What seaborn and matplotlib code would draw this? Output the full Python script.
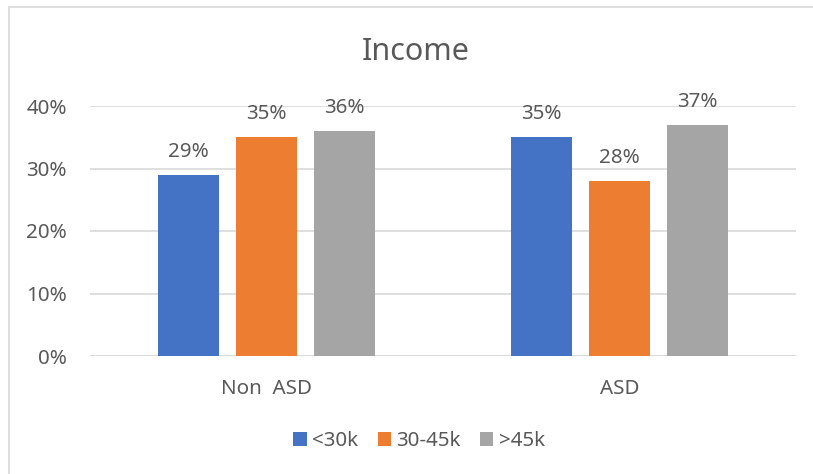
import matplotlib
matplotlib.use("Agg")
import matplotlib.pyplot as plt
import seaborn as sns
import pandas as pd
from matplotlib.patches import Rectangle

groups = ["Non  ASD", "ASD"]
series = ["<30k", "30-45k", ">45k"]
values_lt30k = [0.29, 0.35]
values_30_45k = [0.35, 0.28]
values_gt45k = [0.36, 0.37]
yticks = [0.0, 0.1, 0.2, 0.3, 0.4]
colors = ["#4472C4", "#ED7D31", "#A5A5A5"]

df = pd.DataFrame({
    "group": groups * 3,
    "income": [s for s in series for _ in groups],
    "share": values_lt30k + values_30_45k + values_gt45k,
})

sns.set_theme(style="white")
plt.rcParams["font.family"] = ["Noto Sans", "DejaVu Sans"]
text_color = "#595959"
fs = 14.8

fig = plt.figure(figsize=(8.13, 4.74), dpi=100)
ax = fig.add_axes([90 / 813, 1 - 356 / 474, 706 / 813, 250 / 474])

sns.barplot(data=df, x="group", y="share", hue="income", order=groups,
            hue_order=series, palette=colors, width=0.663, gap=0.21,
            saturation=1, ax=ax, legend=True, edgecolor="none")

ax.set_ylim(0, 0.40)
ax.set_xlim(-0.5, 1.5)
ax.set_yticks(yticks)
ax.set_yticklabels([f"{int(round(t * 100))}%" for t in yticks])
ax.yaxis.grid(True, color="#D9D9D9", linewidth=1.2)
ax.set_axisbelow(True)
for s in ax.spines.values():
    s.set_visible(False)
ax.axhline(0, color="#D9D9D9", linewidth=1.2, zorder=0.5)
ax.tick_params(axis="both", length=0, labelsize=fs, colors=text_color)
ax.tick_params(axis="x", pad=16.5)
ax.tick_params(axis="y", pad=16.5)
ax.set_xlabel("")
ax.set_ylabel("")

for container in ax.containers:
    labels = [f"{int(round(b.get_height() * 100))}%" for b in container]
    ax.bar_label(container, labels=labels, padding=9.5, fontsize=fs,
                 color=text_color, clip_on=False)

fig.text(416 / 813, 1 - 52 / 474, "Income", ha="center", va="center",
         fontsize=22, color=text_color)

handles, labels = ax.get_legend_handles_labels()
ax.legend_.remove()
fig.legend(handles, labels, loc="center", bbox_to_anchor=(419 / 813, 1 - 441 / 474),
           ncol=3, frameon=False, fontsize=fs, labelcolor=text_color,
           handlelength=0.65, handleheight=0.65, handletextpad=0.25,
           columnspacing=0.95)

fig.patches.append(Rectangle((9 / 813, -0.05), 1.2, 1 - 7 / 474 + 0.05,
                             transform=fig.transFigure, fill=False,
                             edgecolor="#D9D9D9", linewidth=1.2))

fig.savefig("out.png", dpi=100, facecolor="white")
